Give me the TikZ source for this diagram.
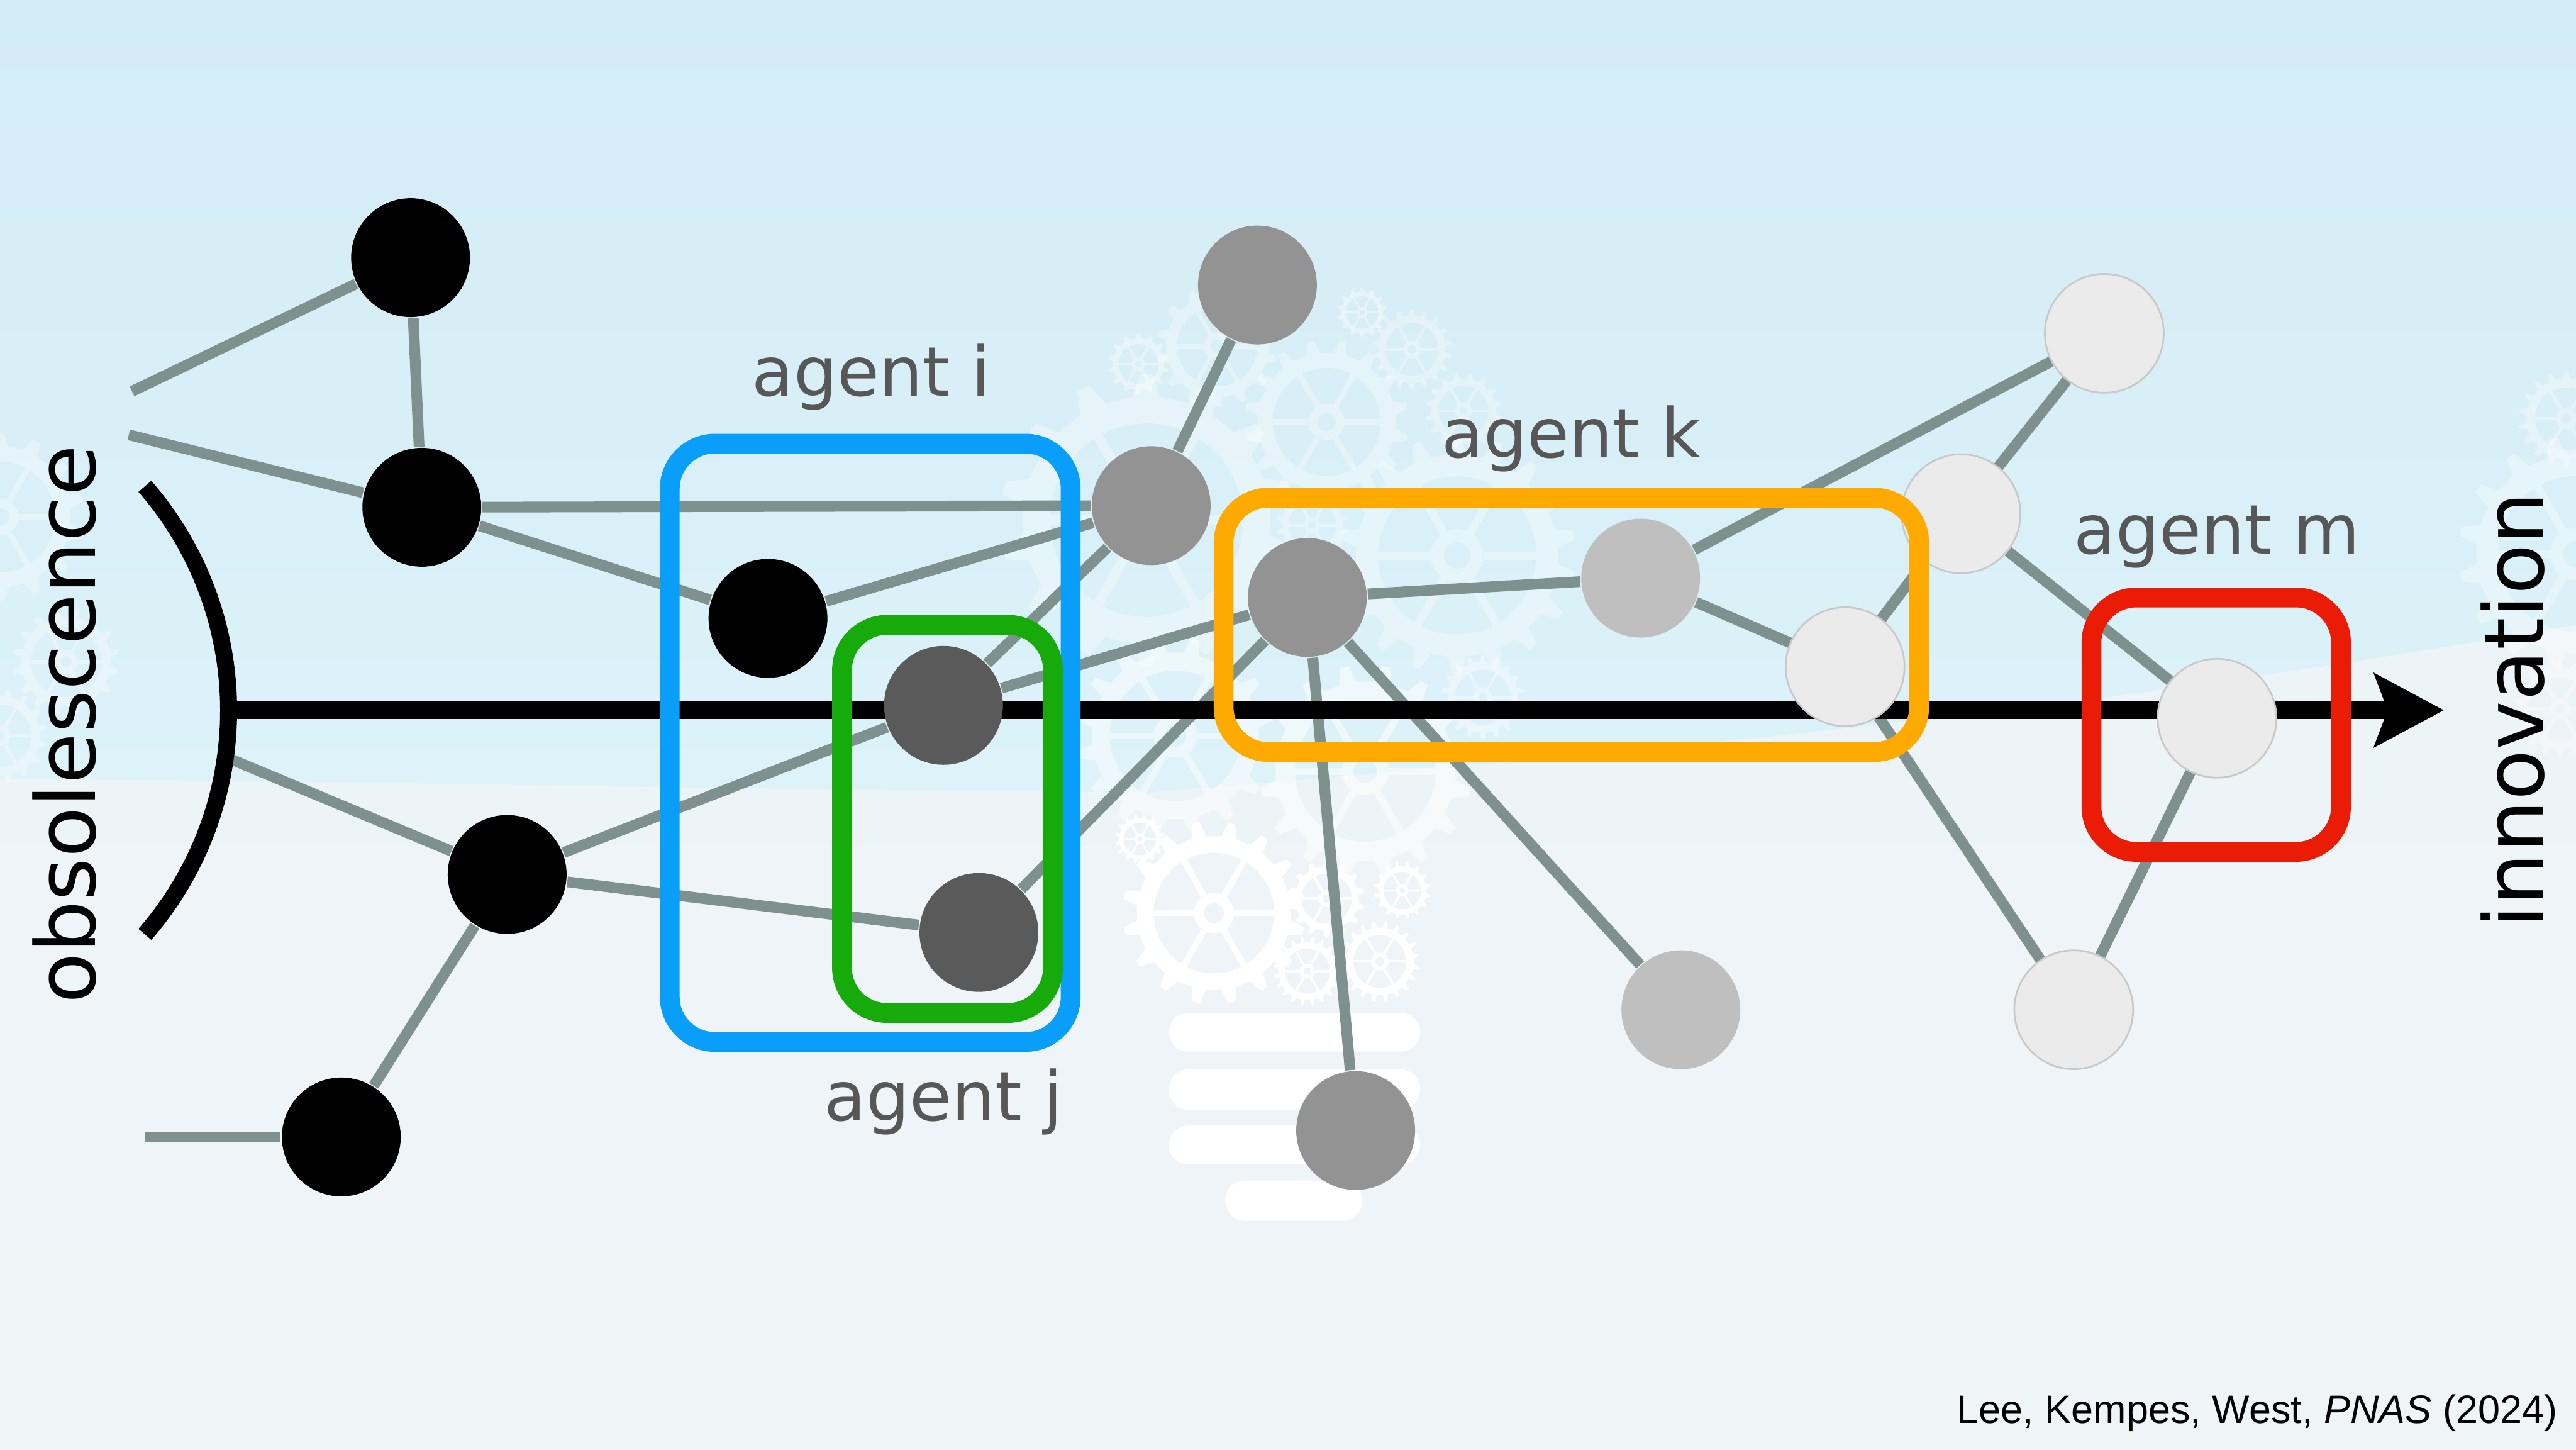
\documentclass[tikz,border=0pt]{standalone}
\usepackage{fontspec}
\setmainfont{DejaVu Sans}
\newfontfamily\citefont{Liberation Sans}
\usepackage{tikz}
\usetikzlibrary{arrows.meta}

\definecolor{bgtop}{RGB}{212,236,246}
\definecolor{bgband}{RGB}{221,242,249}
\definecolor{bglow}{RGB}{239,244,247}
\definecolor{edgegray}{RGB}{127,145,143}
\definecolor{nodedark}{RGB}{90,90,90}
\definecolor{nodemid}{RGB}{147,147,147}
\definecolor{nodelight}{RGB}{191,191,191}
\definecolor{nodepale}{RGB}{235,235,235}
\definecolor{labelgray}{RGB}{87,87,87}
\definecolor{agentblue}{RGB}{8,158,250}
\definecolor{agentgreen}{RGB}{22,170,10}
\definecolor{agentorange}{RGB}{255,170,0}
\definecolor{agentred}{RGB}{234,28,6}

\tikzstyle{vertex}=[circle,minimum size=21pt,inner sep=0pt]
\tikzstyle{black vertex}=[vertex,fill=black]
\tikzstyle{dark vertex}=[vertex,fill=nodedark]
\tikzstyle{mid vertex}=[vertex,fill=nodemid]
\tikzstyle{light vertex}=[vertex,fill=nodelight]
\tikzstyle{pale vertex}=[vertex,fill=nodepale,draw=nodepale!85!black,line width=0.3pt]
\tikzstyle{edge}=[draw,edgegray,line width=1.9pt]
\tikzstyle{agent box}=[line width=3.5pt,rounded corners=0.28cm]
\tikzstyle{agent label}=[text=labelgray,font=\fontsize{12.1}{14}\selectfont,anchor=base]
\tikzstyle{axis label}=[font=\fontsize{14.6}{17}\selectfont,rotate=90,anchor=base]

\pgfdeclarelayer{bg}
\pgfdeclarelayer{edges}
\pgfsetlayers{bg,edges,main}

% cog wheel: x, y, radius, teeth, opacity
\newcommand{\cog}[5]{%
  \begin{scope}[shift={(#1,#2)}]
    \pgfmathsetmacro{\ga}{360/#4}
    \fill[white,fill opacity=#5,even odd rule] (0:#3)
      \foreach \k in {1,...,#4} {
        -- ({(\k-0.75)*\ga}:#3) -- ({(\k-0.6)*\ga}:{#3*1.18})
        -- ({(\k-0.4)*\ga}:{#3*1.18}) -- ({(\k-0.25)*\ga}:#3) }
      -- cycle
      (0,0) circle ({#3*0.78}) (0,0) circle ({#3*0.26}) (0,0) circle ({#3*0.13});
    \foreach \s in {0,60,...,300}
      \draw[white,draw opacity=#5,line width={#3*0.08cm}] (\s:{#3*0.26}) -- (\s:{#3*0.78});
  \end{scope}}

\begin{document}
\begin{tikzpicture}
        \useasboundingbox (0,0) rectangle (16,9);

        % backdrop
        \begin{pgfonlayer}{bg}
        \shade[top color=bglow!80!bgband,bottom color=bglow] (0,0) rectangle (16,9);
        \shade[top color=bgtop,bottom color=bgband] (0,9) -- (16,9) -- (16,5.12)
          .. controls (13,4.6) and (11,4.4) .. (7.14,4.08)
          .. controls (4,4.1) and (2,4.16) .. (0,4.16) -- cycle;
        \cog{7.12}{5.77}{0.77}{14}{0.35}
        \cog{8.24}{6.38}{0.43}{16}{0.35}
        \cog{9.05}{5.55}{0.63}{18}{0.35}
        \cog{8.77}{6.83}{0.21}{18}{0.35}
        \cog{7.07}{6.74}{0.16}{14}{0.4}
        \cog{8.46}{7.06}{0.13}{14}{0.4}
        \cog{7.56}{6.85}{0.32}{14}{0.35}
        \cog{9.09}{6.45}{0.20}{16}{0.35}
        \cog{8.15}{5.74}{0.19}{16}{0.35}
        \cog{9.21}{4.67}{0.22}{18}{0.4}
        \cog{7.30}{4.43}{0.52}{16}{0.5}
        \cog{8.48}{4.21}{0.56}{16}{0.55}
        \cog{7.54}{3.33}{0.48}{16}{1}
        \cog{8.24}{3.42}{0.20}{14}{1}
        \cog{8.71}{3.47}{0.15}{16}{1}
        \cog{8.12}{2.97}{0.18}{20}{1}
        \cog{8.57}{3.03}{0.21}{20}{1}
        \cog{7.08}{3.79}{0.13}{16}{1}
        \cog{0.00}{5.79}{0.44}{14}{0.35}
        \cog{0.41}{4.89}{0.28}{16}{0.35}
        \cog{0.00}{4.43}{0.25}{16}{0.35}
        \cog{16.0}{5.56}{0.62}{16}{0.35}
        \cog{15.9}{4.60}{0.25}{18}{0.35}
        \cog{15.94}{6.40}{0.25}{18}{0.35}
        % lamp socket
        \fill[white,rounded corners=0.12cm] (7.26,2.47) rectangle (8.82,2.71);
        \fill[white,rounded corners=0.12cm] (7.26,2.11) rectangle (8.82,2.36);
        \fill[white,rounded corners=0.12cm] (7.26,1.77) rectangle (8.82,2.01);
        \fill[white,rounded corners=0.12cm] (7.61,1.42) rectangle (8.46,1.67);
        \end{pgfonlayer}

        \node[black vertex] (b1) at (2.55,7.40) {};
        \node[black vertex] (b2) at (2.62,5.85) {};
        \node[black vertex] (b3) at (4.77,5.16) {};
        \node[black vertex] (b4) at (3.15,3.57) {};
        \node[black vertex] (b5) at (2.12,1.94) {};
        \node[dark vertex] (j1) at (5.86,4.62) {};
        \node[dark vertex] (j2) at (6.08,3.21) {};
        \node[mid vertex] (g1) at (7.81,7.23) {};
        \node[mid vertex] (g2) at (7.15,5.86) {};
        \node[mid vertex] (g3) at (8.12,5.29) {};
        \node[mid vertex] (g4) at (8.42,1.98) {};
        \node[light vertex] (l1) at (10.19,5.41) {};
        \node[light vertex] (l2) at (10.44,2.73) {};
        \node[pale vertex] (w1) at (13.07,6.93) {};
        \node[pale vertex] (w2) at (12.18,5.81) {};
        \node[pale vertex] (w3) at (11.46,4.86) {};
        \node[pale vertex] (w4) at (13.77,4.54) {};
        \node[pale vertex] (w5) at (12.88,2.73) {};

        \coordinate (e1) at (0.82,6.57);
        \coordinate (e2) at (0.80,6.30);
        \coordinate (e3) at (0.90,1.94);
        \coordinate (foot) at (1.40,4.30);
        \coordinate (past) at (1.42,4.59);
        \coordinate (future) at (15.18,4.59);

        \begin{pgfonlayer}{edges}
        \draw[edge] (e1) to (b1);
        \draw[edge] (b1) to (b2);
        \draw[edge] (e2) to (b2);
        \draw[edge] (b2) to (g2);
        \draw[edge] (b2) to (b3);
        \draw[edge] (b3) to (g2);
        \draw[edge] (foot) to (b4);
        \draw[edge] (b4) to (j1);
        \draw[edge] (b4) to (j2);
        \draw[edge] (b4) to (b5);
        \draw[edge] (e3) to (b5);
        \draw[edge] (j1) to (g2);
        \draw[edge] (j1) to (g3);
        \draw[edge] (j2) to (g3);
        \draw[edge] (g2) to (g1);
        \draw[edge] (g3) to (l1);
        \draw[edge] (g3) to (g4);
        \draw[edge] (g3) to (l2);
        \draw[edge] (l1) to (w3);
        \draw[edge] (l1) to (w1);
        \draw[edge] (w2) to (w1);
        \draw[edge] (w2) to (w4);
        \draw[edge] (w3) to (w2);
        \draw[edge] (w3) to (w5);
        \draw[edge] (w5) to (w4);
        % time axis
        \draw[line width=3pt] (0.90,5.98) arc[start angle=41,end angle=-41,radius=2.12];
        \draw[line width=3.1pt,-{Stealth[length=4.3mm,width=4.5mm,inset=0.8mm]}] (past) -- (future);
        \end{pgfonlayer}

        \draw[agent box,agentblue] (4.16,2.53) rectangle (6.65,6.245);
        \draw[agent box,agentgreen] (5.23,2.71) rectangle (6.54,5.12);
        \draw[agent box,agentorange] (7.60,4.33) rectangle (11.92,5.91);
        \draw[agent box,agentred] (12.99,3.71) rectangle (14.54,5.29);

        \node[agent label] (ai) at (5.41,6.54) {agent i};
        \node[agent label] (aj) at (5.86,2.04) {agent j};
        \node[agent label] (ak) at (9.76,6.16) {agent k};
        \node[agent label] (am) at (13.77,5.56) {agent m};

        \node[axis label] (obs) at (0.59,4.50) {obsolescence};
        \node[axis label] (inno) at (15.80,4.59) {innovation};

        \node[anchor=base east,inner sep=0pt,font=\citefont\fontsize{7}{8}\selectfont] (cite) at (15.89,0.163)
          {Lee, Kempes, West, \textit{PNAS} (2024)};
      \end{tikzpicture}
\end{document}
